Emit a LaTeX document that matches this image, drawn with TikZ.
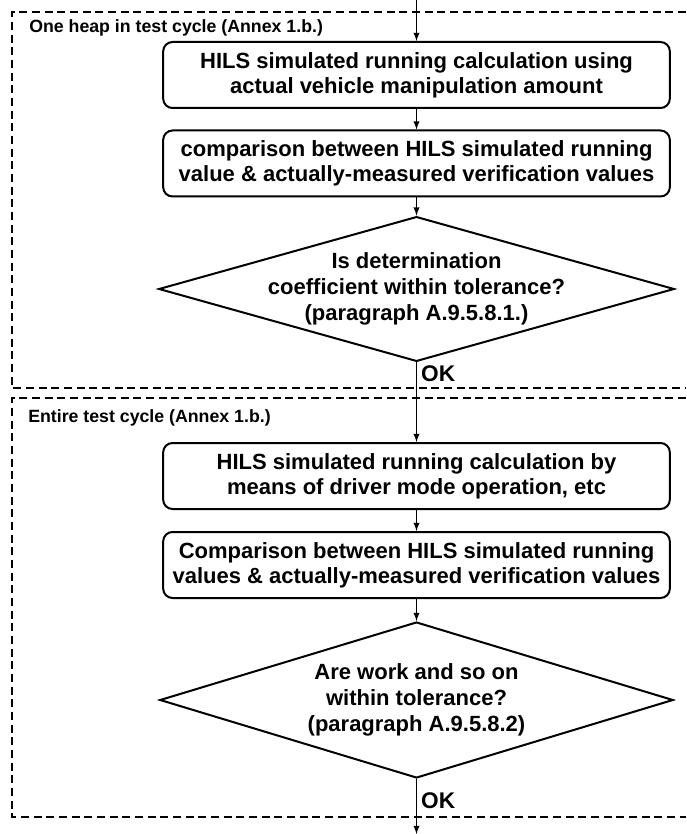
\documentclass[tikz,border=0pt]{standalone}
\usepackage{fontspec}
\setmainfont{Liberation Sans}
\usetikzlibrary{arrows}
\usetikzlibrary{shapes}

\begin{document}
\begin{tikzpicture}[x=0.75pt, y=-0.75pt,
		stepbox/.style={draw, line width=1.5pt, rounded corners=7pt, minimum width=380pt, minimum height=49.5pt, inner sep=0pt, align=center, font=\bfseries\fontsize{16.5}{18.75}\selectfont},
		decision/.style={draw, diamond, line width=1.5pt, minimum width=385pt, inner sep=0pt, align=center, font=\bfseries\fontsize{16.5}{19.5}\selectfont},
		frame/.style={line width=1.6pt, dash pattern=on 6pt off 3.5pt},
		flow/.style={-latex, line width=1.1pt},
		tag/.style={anchor=west, inner sep=0pt, font=\bfseries\fontsize{13.3}{16}\selectfont},
		okay/.style={right, inner sep=3pt, font=\bfseries\fontsize{17}{20}\selectfont}]
		\useasboundingbox (0,0) rectangle (686,834);

		\draw[frame] (686,12)  -- (12,12)  -- (12,388) -- (686,388);
		\draw[frame] (686,398) -- (12,398) -- (12,817) -- (686,817);

		\node[tag] (heap)   at (29, 28)  {One heap in test cycle (Annex 1.b.)};
		\node[tag] (entire) at (28, 418) {Entire test cycle (Annex 1.b.)};

		\coordinate (in)  at (416.5, 0);
		\coordinate (out) at (416.5, 834);

		\node[stepbox]  (calcA)  at (416.5, 75)    {HILS simulated running calculation using\\actual vehicle manipulation amount};
		\node[stepbox]  (compA)  at (416.5, 163.5) {comparison between HILS simulated running\\value \& actually-measured verification values};
		\node[decision, minimum height=108pt, aspect=3.56, inner xsep=-15pt] (checkA) at (416.5, 289) {Is determination\\coefficient within tolerance?\\(paragraph A.9.5.8.1.)};
		\node[stepbox]  (calcB)  at (416.5, 476)   {HILS simulated running calculation by\\means of driver mode operation, etc};
		\node[stepbox]  (compB)  at (416.5, 565)   {Comparison between HILS simulated running\\values \& actually-measured verification values};
		\node[decision, minimum height=117pt, aspect=3.29] (checkB) at (416.5, 700) {Are work and so on\\within tolerance?\\(paragraph A.9.5.8.2)};

		\draw[flow] (in)           -- (calcA.north);
		\draw[flow] (calcA)        -- (compA);
		\draw[flow] (compA)        -- (checkA.north);
		\draw[flow] (checkA.south) -- node[okay, pos=0.14] {OK} (calcB.north);
		\draw[flow] (calcB)        -- (compB);
		\draw[flow] (compB)        -- (checkB.north);
		\draw[flow] (checkB.south) -- node[okay, pos=0.4]  {OK} (out);
	\end{tikzpicture}
\end{document}
